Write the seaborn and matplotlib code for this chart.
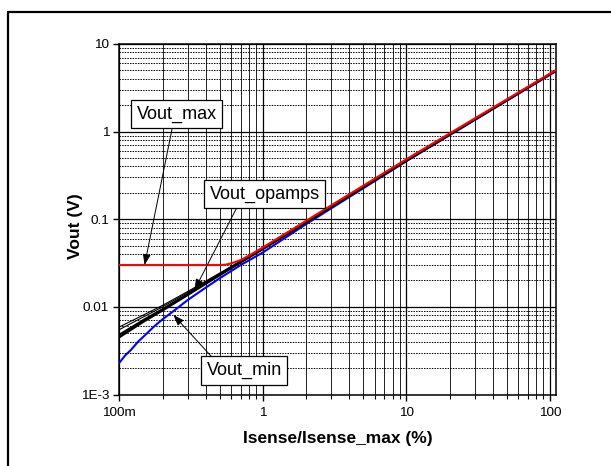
import numpy as np
import pandas as pd
import matplotlib
matplotlib.use("Agg")
import matplotlib.pyplot as plt
import matplotlib.ticker as mticker
from matplotlib.lines import Line2D
import seaborn as sns

# ---- data ----
x_max = [0.1, 0.5, 0.55, 0.6, 0.65, 0.7, 0.8, 1.0, 2.0, 10.0, 110.0]
y_max = [0.030, 0.030, 0.0303, 0.0313, 0.0328, 0.0342, 0.0385, 0.0477, 0.096, 0.485, 5.05]

x_op = [0.1, 0.15, 0.2, 0.3, 0.5, 0.7, 1.0, 2.0, 10.0, 110.0]
y_op1 = [0.0059, 0.0082, 0.0104, 0.0150, 0.0243, 0.0335, 0.0470, 0.093, 0.470, 5.0]
y_op2 = [0.0055, 0.0078, 0.0100, 0.0146, 0.0240, 0.0332, 0.0467, 0.093, 0.470, 5.0]
y_op3 = [0.0048, 0.0072, 0.0094, 0.0140, 0.0233, 0.0325, 0.0460, 0.092, 0.468, 4.98]
y_op4 = [0.0045, 0.0069, 0.0091, 0.0137, 0.0230, 0.0322, 0.0457, 0.092, 0.468, 4.98]

x_min = [0.1, 0.11, 0.12, 0.135, 0.15, 0.175, 0.2, 0.25, 0.3, 0.4, 0.5, 0.7, 1.0, 2.0, 10.0, 110.0]
y_min = [0.0023, 0.0028, 0.0032, 0.0040, 0.0047, 0.0060, 0.0072, 0.0095, 0.0120, 0.0166, 0.0212, 0.030, 0.0418, 0.088, 0.46, 4.9]

x_ticks = [0.1, 1, 10, 100]
x_ticklabels = ["100m", "1", "10", "100"]
y_ticks = [0.001, 0.01, 0.1, 1, 10]
y_ticklabels = ["1E-3", "0.01", "0.1", "1", "10"]

labels = ["Vout_max", "Vout_opamps", "Vout_min"]
label_tips = [(0.150, 0.030), (0.334, 0.0156), (0.238, 0.0081)]

# ---- style ----
sns.set_theme(style="white")
plt.rcParams["font.family"] = ["Liberation Sans", "DejaVu Sans"]

W, H = 611, 466
fig = plt.figure(figsize=(W / 100, H / 100), dpi=100)
ax = fig.add_axes([119.3 / W, 1 - 394.5 / H, (556 - 119.3) / W, (394.5 - 44) / H])

ax.set_xscale("log")
ax.set_yscale("log")
ax.set_xlim(0.1, 110)
ax.set_ylim(1e-3, 10)

# grid
ax.set_axisbelow(True)
ax.grid(which="major", axis="both", color="black", linewidth=0.9, linestyle="-")
ax.grid(which="minor", axis="x", color="#111111", linewidth=0.65, linestyle="-")
ax.grid(which="minor", axis="y", color="black", linewidth=0.7, linestyle=(0, (1.5, 1.2)))

# curves
def draw(xs, ys, color, lw):
    df = pd.DataFrame({"x": xs, "y": ys})
    sns.lineplot(data=df, x="x", y="y", color=color, linewidth=lw, ax=ax,
                 estimator=None, sort=False, zorder=3)

draw(x_min, y_min, "#0000ff", 1.5)
draw(x_op, y_op1, "black", 0.8)
draw(x_op, y_op2, "black", 0.8)
draw(x_op, y_op3, "black", 1.6)
draw(x_op, y_op4, "black", 1.6)
draw(x_max, y_max, "#ff0000", 1.5)

# ticks
ax.xaxis.set_major_locator(mticker.FixedLocator(x_ticks))
ax.xaxis.set_major_formatter(mticker.FixedFormatter(x_ticklabels))
ax.yaxis.set_major_locator(mticker.FixedLocator(y_ticks))
ax.yaxis.set_major_formatter(mticker.FixedFormatter(y_ticklabels))
ax.xaxis.set_minor_locator(mticker.LogLocator(base=10, subs=np.arange(2, 10), numticks=20))
ax.yaxis.set_minor_locator(mticker.LogLocator(base=10, subs=np.arange(2, 10), numticks=20))
ax.xaxis.set_minor_formatter(mticker.NullFormatter())
ax.yaxis.set_minor_formatter(mticker.NullFormatter())

ax.tick_params(axis="x", which="major", direction="out", length=4.3, width=1.0,
               color="black", labelsize=9.7, labelcolor="black", pad=5.0, bottom=True)
ax.tick_params(axis="x", which="minor", direction="out", length=3.0, width=0.8,
               color="black", bottom=True)
ax.tick_params(axis="y", which="major", direction="out", length=4.3, width=1.0,
               color="black", labelsize=9.7, labelcolor="black", pad=3.0, left=True)
ax.tick_params(axis="y", which="minor", length=0, left=False)

for s in ax.spines.values():
    s.set_color("black")
    s.set_linewidth(1.1)
    s.set_visible(True)

ax.set_xlabel("Isense/Isense_max (%)", fontsize=12.5, fontweight="bold", color="black")
ax.set_ylabel("Vout (V)", fontsize=12.5, fontweight="bold", color="black")
ax.xaxis.set_label_coords(0.5, -0.105)
ax.yaxis.set_label_coords(-0.083, 0.48)

# annotations
text_pos = [(0.131, 0.800), (0.333, 0.572), (0.286, 0.0685)]
relpos = [(0.46, 0.0), (0.27, 0.0), (0.13, 1.0)]
for lab, tip, tp, rp in zip(labels, label_tips, text_pos, relpos):
    ax.annotate(lab, xy=tip, xycoords="data", xytext=tp, textcoords="axes fraction",
                ha="center", va="center", fontsize=13, color="black", zorder=6,
                bbox=dict(boxstyle="square,pad=0.3", fc="white", ec="black", lw=0.9),
                arrowprops=dict(arrowstyle="-|>,head_length=0.5,head_width=0.18",
                                color="black", lw=0.7, relpos=rp,
                                shrinkA=0, shrinkB=0))

# figure border (left and top visible)
fig.add_artist(Line2D([8 / W, 8 / W], [0, 1 - 12 / H], color="black", lw=1.6,
                      transform=fig.transFigure))
fig.add_artist(Line2D([8 / W, 1], [1 - 12 / H, 1 - 12 / H], color="black", lw=1.6,
                      transform=fig.transFigure))

fig.savefig("out.png", dpi=100, facecolor="white")
